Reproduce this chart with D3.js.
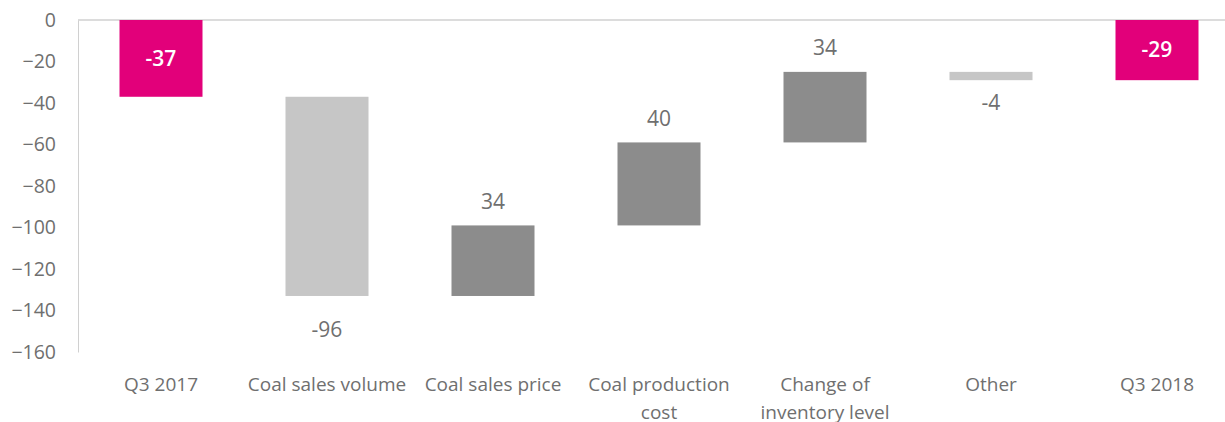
<!DOCTYPE html>
<html lang="en">
<head>
<meta charset="UTF-8">
<title>Waterfall</title>
<script src="https://d3js.org/d3.v7.min.js"></script>
<style>
  body { margin: 0; background: #fff; font-family: "Open Sans", sans-serif; }
  svg text { fill: #6f6f6f; }
</style>
</head>
<body>
<div id="chart"></div>
<script>
const categories = [["Q3 2017"], ["Coal sales volume"], ["Coal sales price"], ["Coal production", "cost"], ["Change of", "inventory level"], ["Other"], ["Q3 2018"]];
const values = [-37, -96, 34, 40, 34, -4, -29];
const kinds = ["total", "neg", "pos", "pos", "pos", "neg", "total"];
const yTicks = [0, -20, -40, -60, -80, -100, -120, -140, -160];

const colors = { total: "#e2007a", neg: "#c6c6c6", pos: "#8c8c8c" };

const W = 1225, H = 422;
const svg = d3.select("#chart").append("svg").attr("width", W).attr("height", H);

const x = d3.scaleBand().domain(d3.range(categories.length)).range([78, 1240]).paddingInner(0.5).paddingOuter(0.25);
const y = d3.scaleLinear().domain([0, -160]).range([20, 352]);

// running totals
let run = 0;
const bars = values.map((v, i) => {
  let a, b;
  if (kinds[i] === "total") { a = 0; b = v; run = v; }
  else { a = run; b = run + v; run = b; }
  return { i, v, a, b, kind: kinds[i] };
});

// axes
const yAxis = svg.append("g").attr("transform", "translate(78,0)")
  .call(d3.axisLeft(y).tickValues(yTicks).tickSize(0).tickPadding(22).tickFormat(d3.format("d")));
yAxis.select(".domain").attr("stroke", "#d0d0d0");
yAxis.selectAll("text").style("font-size", "19.5px").style("fill", "#6f6f6f").attr("font-family", "Open Sans");

svg.append("line").attr("x1", 78).attr("x2", W).attr("y1", y(0)).attr("y2", y(0))
  .attr("stroke", "#d0d0d0").attr("stroke-width", 1.5);

svg.selectAll("rect.bar").data(bars).enter().append("rect")
  .attr("x", d => x(d.i))
  .attr("width", x.bandwidth())
  .attr("y", d => y(Math.max(d.a, d.b)))
  .attr("height", d => Math.abs(y(d.a) - y(d.b)))
  .attr("fill", d => colors[d.kind]);

// value labels
svg.selectAll("text.val").data(bars).enter().append("text")
  .attr("x", d => x(d.i) + x.bandwidth() / 2)
  .attr("y", d => {
    if (d.kind === "total") return (y(d.a) + y(d.b)) / 2;
    if (d.v > 0) return y(d.b) - 24;
    return y(d.b) + (Math.abs(d.v) > 20 ? 34 : 22);
  })
  .attr("dy", "0.35em")
  .attr("text-anchor", "middle")
  .style("font-size", "21px")
  .style("font-weight", d => d.kind === "total" ? 600 : 400)
  .style("fill", d => d.kind === "total" ? "#fff" : "#6f6f6f")
  .text(d => d.v);

// category labels
const cat = svg.selectAll("text.cat").data(categories).enter().append("text")
  .attr("text-anchor", "middle")
  .style("font-size", "19px")
  .attr("x", (d, i) => x(i) + x.bandwidth() / 2)
  .attr("y", 384);
cat.selectAll("tspan").data(d => d).enter().append("tspan")
  .attr("x", function () { return this.parentNode.getAttribute("x"); })
  .attr("dy", (d, j) => j === 0 ? "0.35em" : "1.5em")
  .text(d => d);
</script>
</body>
</html>
